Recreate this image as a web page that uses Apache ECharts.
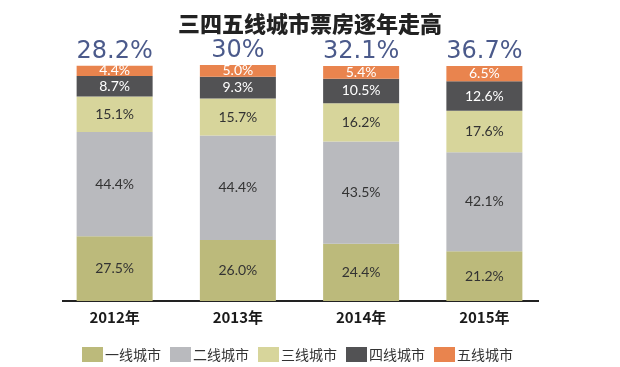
<!DOCTYPE html>
<html><head><meta charset="utf-8">
<script src="https://cdn.jsdelivr.net/npm/echarts@6/dist/echarts.min.js"></script>
<style>html,body{margin:0;padding:0;background:#fff}#c{width:620px;height:367px}</style>
</head><body><div id="c"></div>
<script>
var categories = ['2012年','2013年','2014年','2015年'];
var seriesNames = ['一线城市','二线城市','三线城市','四线城市','五线城市'];
var tier1 = [27.5, 26.0, 24.4, 21.2];
var tier2 = [44.4, 44.4, 43.5, 42.1];
var tier3 = [15.1, 15.7, 16.2, 17.6];
var tier4 = [8.7, 9.3, 10.5, 12.6];
var tier5 = [4.4, 5.0, 5.4, 6.5];
var totalLabels = ['28.2%', '30%', '32.1%', '36.7%'];

var colors = ['#bcba7b', '#b9babe', '#d7d59b', '#525254', '#e9844e'];
var labelColors = ['#333', '#333', '#333', '#fff', '#fff'];
var values = [tier1, tier2, tier3, tier4, tier5];

var chart = echarts.init(document.getElementById('c'));
var series = values.map(function (d, i) {
  return {
    name: seriesNames[i], type: 'bar', stack: 's', data: d, barWidth: 76,
    itemStyle: { color: colors[i] },
    label: { show: true, position: 'inside', color: labelColors[i], fontSize: 14,
      fontFamily: 'Lato', formatter: function (p) { return p.value.toFixed(1) + '%'; } }
  };
});
series.push({
  name: 'total', type: 'bar', stack: 's', data: categories.map(function(){return 0;}), barWidth: 76,
  itemStyle: { color: 'transparent' },
  label: { show: true, position: 'top', distance: 2, color: '#4b5a8b', fontSize: 24,
    fontFamily: 'DejaVu Sans', formatter: function (p) { return totalLabels[p.dataIndex]; } }
});

chart.setOption({
  animation: false,
  title: { text: '三四五线城市票房逐年走高', left: 'center', top: 8,
    textStyle: { fontFamily: 'Noto Sans CJK SC', fontWeight: 900, fontSize: 22, color: '#222' } },
  legend: { data: seriesNames, left: 77, top: 342, itemWidth: 21, itemHeight: 15, itemGap: 9,
    icon: 'rect', textStyle: { fontSize: 14, color: '#333', fontFamily: 'Noto Sans CJK SC', padding: [0,0,0,-3] } },
  grid: { left: 53, right: 74, top: 65, bottom: 66 },
  xAxis: { type: 'category', data: categories, axisLine: { show: false }, axisTick: { show: false },
    axisLabel: { fontSize: 15, fontWeight: 'bold', color: '#1a1a1a', margin: 9, fontFamily: 'Noto Sans CJK SC' } },
  yAxis: { type: 'value', min: 0, max: 100.4, show: false },
  graphic: [{ type: 'line', shape: { x1: 62, y1: 301, x2: 539, y2: 301 }, style: { stroke: '#222', lineWidth: 2 } }],
  series: series
});
</script></body></html>
